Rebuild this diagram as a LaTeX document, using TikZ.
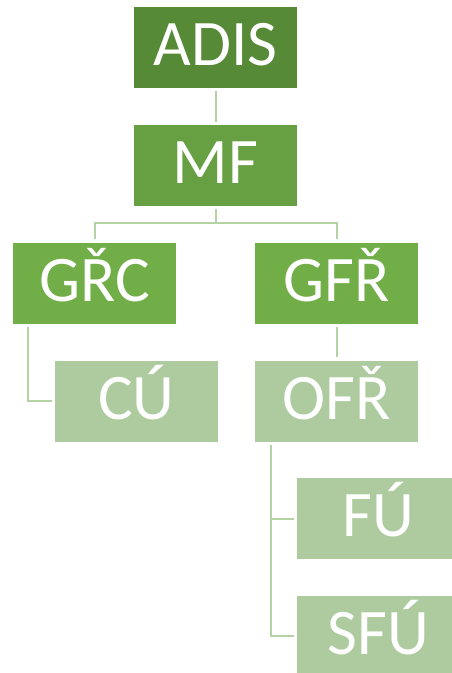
\documentclass[tikz,border=0pt]{standalone}
\usepackage{fontspec}
\setmainfont{Carlito}
\definecolor{darkg}{HTML}{578A37}
\definecolor{midg}{HTML}{66A042}
\definecolor{accg}{HTML}{71AE48}
\definecolor{lightg}{HTML}{ADCB9F}
\definecolor{lineg}{HTML}{B4D2A4}
\tikzset{
  box/.style={rectangle, inner sep=0pt, minimum width=163pt, minimum height=81pt,
    text=white, font=\fontsize{65}{65}\selectfont, text height=42pt, text depth=6pt},
  conn/.style={draw=lineg, line width=2pt, shorten <=3pt, shorten >=3pt}
}
\begin{document}
\begin{tikzpicture}[x=1pt,y=-1pt]
\useasboundingbox (0,0) rectangle (452,673);
\node[box, fill=darkg] (ADIS) at (215.5,47.5) {ADIS};
\node[box, fill=midg] (MF) at (215.5,165.5) {MF};
\node[box, fill=accg] (GRC) at (94.5,283) {GŘC};
\node[box, fill=accg] (GFR) at (336.5,283) {GFŘ};
\node[box, fill=lightg] (CU) at (136.5,401) {CÚ};
\node[box, fill=lightg] (OFR) at (336.5,401) {OFŘ};
\node[box, fill=lightg] (FU) at (378.5,518.5) {FÚ};
\node[box, fill=lightg] (SFU) at (378.5,636) {SFÚ};
\coordinate (mfj) at (215.5,223);
\path[conn] (ADIS.south) -- (MF.north);
\path[conn] (MF.south) -- (mfj) -| (GRC.north);
\path[conn] (MF.south) -- (mfj) -| (GFR.north);
\path[conn] (GFR.south) -- (OFR.north);
\path[conn] ([xshift=15pt]GRC.south west) |- (CU.west);
\path[conn] ([xshift=16pt]OFR.south west) |- (FU.west);
\path[conn] ([xshift=16pt]OFR.south west) |- (SFU.west);
\end{tikzpicture}
\end{document}
